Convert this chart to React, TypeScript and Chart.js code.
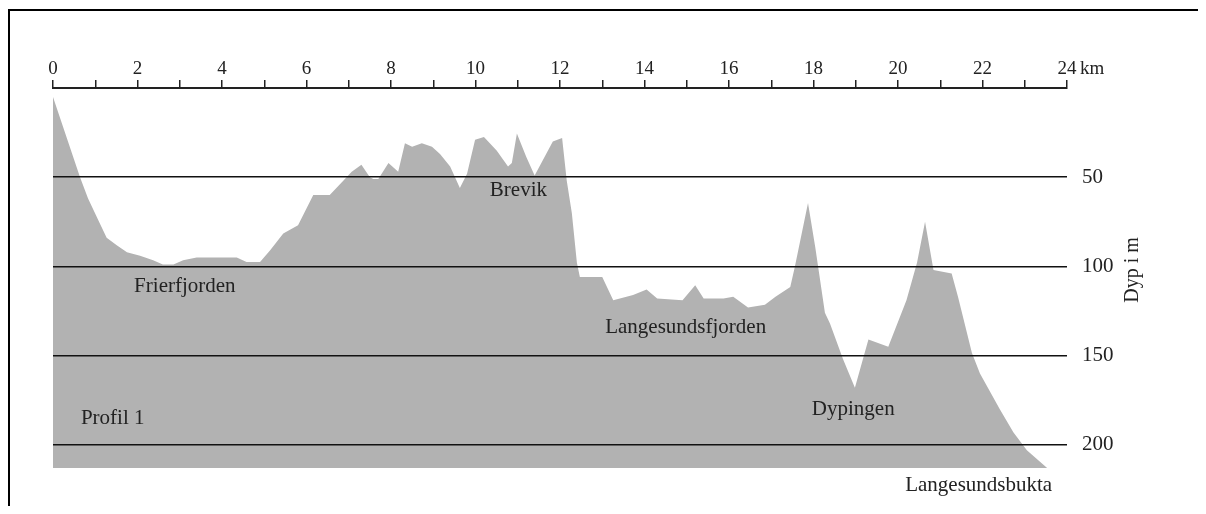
import React, { useEffect, useRef } from 'react';
import { Chart, registerables } from 'chart.js';

Chart.register(...registerables);

// Profile: distance along the section (km) and depth of the sea floor (m)
const profileKm = [
  0.0, 0.64, 0.83, 1.07, 1.27, 1.5, 1.75, 2.06, 2.37, 2.6, 2.85, 3.08, 3.4, 4.35, 4.58, 4.9,
  5.14, 5.45, 5.8, 6.16, 6.55, 6.87, 7.07, 7.3, 7.5, 7.58, 7.7, 7.94, 8.17, 8.33, 8.5, 8.73,
  8.97, 9.16, 9.4, 9.63, 9.8, 9.99, 10.2, 10.5, 10.77, 10.86, 10.98, 11.2, 11.4, 11.83, 12.05,
  12.16, 12.28, 12.4, 12.47, 13.0, 13.26, 13.73, 14.05, 14.3, 14.9, 15.2, 15.4, 15.87, 16.1,
  16.45, 16.85, 17.1, 17.45, 17.56, 17.87, 18.04, 18.27, 18.39, 18.7, 18.98, 19.3, 19.77, 20.2,
  20.45, 20.64, 20.84, 21.27, 21.42, 21.75, 21.94, 22.41, 22.73, 23.05, 23.53,
];
const profileDepth = [
  5, 50, 62, 74, 84, 88, 92, 94, 96.5, 99, 99, 96.5, 95, 95, 97.5, 97.5,
  91, 81.5, 77, 60, 60, 52, 47, 43, 50, 51, 51, 42, 47, 31, 33, 31,
  33, 37, 44, 56, 48, 29, 27.5, 35, 44, 42, 25.5, 38.5, 49, 30, 28,
  52, 70, 98, 106, 106, 119, 116, 113, 118, 119, 110.5, 118, 118, 117,
  123, 121.5, 117, 111.5, 100, 64.5, 89, 126, 132, 152, 168, 141, 145, 119,
  98, 75, 102, 104, 117, 148.5, 160, 180, 193, 203, 213,
];
const bottomDepth = 213;

const kmTickValues = [0, 1, 2, 3, 4, 5, 6, 7, 8, 9, 10, 11, 12, 13, 14, 15, 16, 17, 18, 19, 20, 21, 22, 23, 24];
const kmTickLabels = ['0', '', '2', '', '4', '', '6', '', '8', '', '10', '', '12', '', '14', '', '16', '', '18', '', '20', '', '22', '', '24'];
const depthTickValues = [50, 100, 150, 200];
const depthTickLabels = ['50', '100', '150', '200'];

const placeNames = ['Brevik', 'Frierfjorden', 'Profil 1', 'Langesundsfjorden', 'Dypingen', 'Langesundsbukta'];
const placeKm = [10.34, 1.92, 0.66, 13.07, 17.96, 20.17];
const placeDepth = [57.2, 111, 185, 134, 180, 223];

const xUnit = 'km';
const yTitle = 'Dyp i m';

const FONT = '"Liberation Serif", "Times New Roman", serif';

export default function App() {
  const ref = useRef<HTMLCanvasElement>(null);

  useEffect(() => {
    const canvas = ref.current;
    if (!canvas) return;

    const overlay = {
      id: 'overlay',
      afterDraw(chart: any) {
        const ctx = chart.ctx;
        const xs = chart.scales.x;
        const ys = chart.scales.y;
        const ca = chart.chartArea;
        ctx.save();
        // frame (top + left)
        ctx.strokeStyle = '#000';
        ctx.lineWidth = 2;
        ctx.beginPath();
        ctx.moveTo(1, chart.height);
        ctx.lineTo(1, 2);
        ctx.lineTo(chart.width, 2);
        ctx.stroke();

        ctx.fillStyle = '#222';
        ctx.textAlign = 'left';
        ctx.textBaseline = 'middle';
        ctx.font = `21px ${FONT}`;
        placeNames.forEach((n, i) => {
          ctx.fillText(n, xs.getPixelForValue(placeKm[i]), ys.getPixelForValue(placeDepth[i]));
        });

        ctx.font = `19px ${FONT}`;
        ctx.fillText(xUnit, xs.getPixelForValue(24) + 13, ca.top - 19);

        ctx.translate(ca.right + 66, ys.getPixelForValue(102));
        ctx.rotate(-Math.PI / 2);
        ctx.textAlign = 'center';
        ctx.font = `20px ${FONT}`;
        ctx.fillText(yTitle, 0, 0);
        ctx.restore();
      },
    };

    const chart = new Chart(canvas, {
      type: 'line',
      data: {
        datasets: [
          {
            data: profileKm.map((k, i) => ({ x: k, y: profileDepth[i] })),
            fill: { value: bottomDepth },
            backgroundColor: '#b2b2b2',
            borderWidth: 0,
            borderColor: 'rgba(0,0,0,0)',
            pointRadius: 0,
            tension: 0,
          },
        ],
      },
      options: {
        responsive: false,
        maintainAspectRatio: false,
        animation: false,
        devicePixelRatio: 1,
        layout: { padding: { left: 45, right: 31, top: 0, bottom: 38 } },
        plugins: { legend: { display: false }, tooltip: { enabled: false } },
        scales: {
          x: {
            type: 'linear',
            position: 'top',
            min: 0,
            max: 24,
            afterBuildTicks: (s: any) => {
              s.ticks = kmTickValues.map((v) => ({ value: v }));
            },
            afterFit: (s: any) => {
              s.height = 80;
            },
            ticks: {
              autoSkip: false,
              maxRotation: 0,
              padding: 0,
              color: '#222',
              font: { family: FONT, size: 19 },
              callback: (v: any) => kmTickLabels[kmTickValues.indexOf(Number(v))] ?? '',
            },
            grid: {
              drawOnChartArea: false,
              drawTicks: true,
              tickLength: 8,
              color: '#222',
              lineWidth: 1.5,
            },
            border: { display: true, color: '#222', width: 2 },
          },
          y: {
            type: 'linear',
            position: 'right',
            reverse: true,
            min: 0,
            max: bottomDepth,
            afterBuildTicks: (s: any) => {
              s.ticks = depthTickValues.map((v) => ({ value: v }));
            },
            afterFit: (s: any) => {
              s.width = 100;
            },
            ticks: {
              padding: 15,
              color: '#222',
              font: { family: FONT, size: 21 },
              callback: (v: any) => depthTickLabels[depthTickValues.indexOf(Number(v))] ?? '',
            },
            grid: {
              z: 1,
              drawTicks: false,
              color: '#111',
              lineWidth: 1.5,
            },
            border: { display: false },
          },
        },
      },
      plugins: [overlay],
    });

    return () => chart.destroy();
  }, []);

  return (
    <div>
      <canvas ref={ref} width={1190} height={498} style={{ display: 'block', width: 1190, height: 498 }} />
    </div>
  );
}
